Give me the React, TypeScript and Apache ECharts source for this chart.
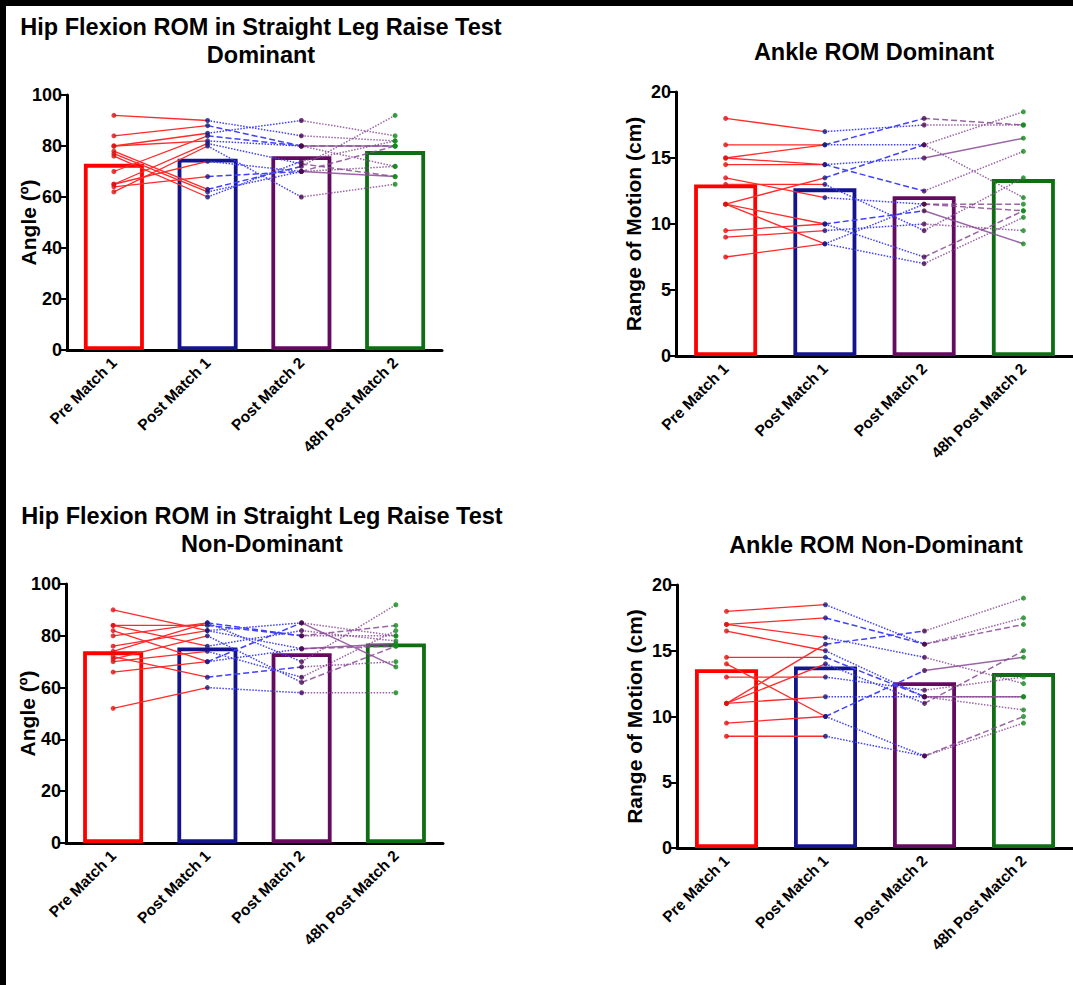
import React, { useEffect, useRef } from "react";
import * as echarts from "echarts";

const categories = ["Pre Match 1", "Post Match 1", "Post Match 2", "48h Post Match 2"];

// Panel 1: Hip Flexion ROM – Dominant (per subject, 4 time points)
const hipDomPre = [92, 84, 80, 80, 78, 77, 76, 70, 65, 65, 64, 62];
const hipDomPost1 = [90, 88, 85, 82, 63, 62, 60, 84, 81, 74, 68, 80];
const hipDomPost2 = [84, 80, 90, 80, 72, 70, 74, 80, 73, 70, 70, 60];
const hipDom48h = [82, 80, 84, 80, 92, 80, 82, 72, 68, 72, 68, 65];
const hipDomMeans = [73, 75, 76, 78];

// Panel 2: Ankle ROM – Dominant
const ankDomPre = [18, 16, 15, 15, 14.5, 13.5, 13, 11.5, 11.5, 11.5, 9.5, 9, 7.5];
const ankDomPost1 = [17, 16, 16, 14.5, 14.5, 12, 13, 13.5, 10, 8.5, 10, 9.5, 8.5];
const ankDomPost2 = [17.5, 18, 16, 15, 12.5, 11.5, 9.5, 16, 7.5, 7, 11, 10, 11.5];
const ankDom48h = [17.5, 17.5, 18.5, 16.5, 15.5, 11.5, 13.5, 12, 11, 10.5, 8.5, 9.5, 11];
const ankDomMeans = [13, 12.7, 12.1, 13.4];

// Panel 3: Hip Flexion ROM – Non-Dominant
const hipNonPre = [90, 84, 84, 82, 80, 76, 74, 72, 71, 70, 66, 52];
const hipNonPost1 = [82, 84, 76, 70, 85, 82, 85, 64, 80, 74, 70, 60];
const hipNonPost2 = [85, 80, 82, 75, 80, 75, 70, 68, 62, 64, 85, 58];
const hipNon48h = [80, 84, 78, 77, 80, 76, 92, 70, 76, 82, 68, 58];
const hipNonMeans = [74, 75.5, 73.3, 77];

// Panel 4: Ankle ROM – Non-Dominant
const ankNonPre = [18, 17, 17, 16.5, 14.5, 14, 13, 11, 11, 11, 9.5, 8.5];
const ankNonPost1 = [18.5, 17.5, 16, 15, 14.5, 10, 13, 15.5, 14, 11.5, 10, 8.5];
const ankNonPost2 = [15.5, 15.5, 14.5, 11.5, 11.5, 7, 12, 16.5, 11, 11.5, 13.5, 7];
const ankNon48h = [17.5, 17, 12.5, 11.5, 10.5, 10, 13, 19, 15, 11.5, 14.5, 9.5];
const ankNonMeans = [13.6, 13.8, 12.6, 13.3];

const FONT = "Arial, 'Liberation Sans', sans-serif";
const barColors = ["#ff0000", "#14148c", "#640a5f", "#0f6e14"];
const dotColors = ["#e01010", "#1a1a80", "#4a0a50", "#108a1a"];
const segColors = ["#ff2a2a", "#4040ff", "#8a4a96"];
const segDash: any[] = [
  ["solid"],
  ["dotted", "dashed", "dotted", "dotted", "dashed", "dotted"],
  ["dotted", "dashed", "dotted", "solid", "dotted", "dashed", "dotted"],
];

type Panel = {
  title: string[];
  titleX: number;
  titleY: number;
  grid: { left: number; top: number; width: number; height: number };
  max: number;
  interval: number;
  yName: string;
  nameGap: number;
  barWidth: number;
  subjects: number[][];
  means: number[];
};

const panels: Panel[] = [
  {
    title: ["Hip Flexion ROM in Straight Leg Raise Test", "Dominant"],
    titleX: 261,
    titleY: 27,
    grid: { left: 67, top: 95, width: 375, height: 255 },
    max: 100,
    interval: 20,
    yName: "Angle (º)",
    nameGap: 28,
    barWidth: 60,
    subjects: [hipDomPre, hipDomPost1, hipDomPost2, hipDom48h],
    means: hipDomMeans,
  },
  {
    title: ["Ankle ROM Dominant"],
    titleX: 874,
    titleY: 52,
    grid: { left: 676, top: 92, width: 397, height: 264 },
    max: 20,
    interval: 5,
    yName: "Range of Motion (cm)",
    nameGap: 32,
    barWidth: 63,
    subjects: [ankDomPre, ankDomPost1, ankDomPost2, ankDom48h],
    means: ankDomMeans,
  },
  {
    title: ["Hip Flexion ROM in Straight Leg Raise Test", "Non-Dominant"],
    titleX: 262,
    titleY: 516,
    grid: { left: 66, top: 584, width: 377, height: 259 },
    max: 100,
    interval: 20,
    yName: "Angle (º)",
    nameGap: 28,
    barWidth: 60,
    subjects: [hipNonPre, hipNonPost1, hipNonPost2, hipNon48h],
    means: hipNonMeans,
  },
  {
    title: ["Ankle ROM Non-Dominant"],
    titleX: 876,
    titleY: 545,
    grid: { left: 677, top: 585, width: 396, height: 263 },
    max: 20,
    interval: 5,
    yName: "Range of Motion (cm)",
    nameGap: 32,
    barWidth: 63,
    subjects: [ankNonPre, ankNonPost1, ankNonPost2, ankNon48h],
    means: ankNonMeans,
  },
];

function buildOption() {
  const grid: any[] = [];
  const xAxis: any[] = [];
  const yAxis: any[] = [];
  const series: any[] = [];
  const graphic: any[] = [
    { type: "rect", shape: { x: 0, y: 0, width: 1073, height: 6 }, style: { fill: "#000" }, z: 100 },
    { type: "rect", shape: { x: 0, y: 0, width: 6, height: 985 }, style: { fill: "#000" }, z: 100 },
  ];

  panels.forEach((p, pi) => {
    grid.push({ ...p.grid, containLabel: false });
    xAxis.push({
      type: "category",
      gridIndex: pi,
      data: categories,
      axisLine: { lineStyle: { color: "#000", width: 3 } },
      axisTick: { alignWithLabel: true, length: 6, lineStyle: { color: "#000", width: 2 } },
      axisLabel: {
        rotate: 45,
        interval: 0,
        margin: 10,
        color: "#000",
        fontWeight: "bold",
        fontSize: 15.5,
        fontFamily: FONT,
      },
    });
    yAxis.push({
      type: "value",
      gridIndex: pi,
      min: 0,
      max: p.max,
      interval: p.interval,
      splitLine: { show: false },
      axisLine: { show: true, lineStyle: { color: "#000", width: 3 } },
      axisTick: { show: true, length: 6, lineStyle: { color: "#000", width: 2 } },
      axisLabel: { color: "#000", fontWeight: "bold", fontSize: 18, fontFamily: FONT, margin: 5 },
      name: p.yName,
      nameLocation: "middle",
      nameGap: p.nameGap,
      nameMoveOverlap: false,
      nameTextStyle: { color: "#000", fontWeight: "bold", fontSize: 21, fontFamily: FONT },
    });

    // mean bars (hollow)
    series.push({
      type: "bar",
      xAxisIndex: pi,
      yAxisIndex: pi,
      barWidth: p.barWidth,
      z: 1,
      data: p.means.map((v, i) => ({
        value: v,
        itemStyle: { color: "rgba(0,0,0,0)", borderColor: barColors[i], borderWidth: 3.8 },
      })),
    });

    // subject connecting lines
    const n = p.subjects[0].length;
    for (let s = 0; s < n; s++) {
      for (let k = 0; k < 3; k++) {
        const data: any[] = ["-", "-", "-", "-"];
        data[k] = p.subjects[k][s];
        data[k + 1] = p.subjects[k + 1][s];
        const dashes = segDash[k];
        series.push({
          type: "line",
          xAxisIndex: pi,
          yAxisIndex: pi,
          data,
          showSymbol: false,
          symbol: "none",
          silent: true,
          z: 2,
          lineStyle: {
            color: segColors[k],
            width: k === 0 ? 1.3 : 1.5,
            type: dashes[s % dashes.length],
            opacity: k === 2 ? 0.85 : 1,
          },
        });
      }
    }

    // points
    for (let c = 0; c < 4; c++) {
      series.push({
        type: "scatter",
        xAxisIndex: pi,
        yAxisIndex: pi,
        symbol: "circle",
        symbolSize: 5,
        z: 3,
        itemStyle: { color: dotColors[c] },
        data: p.subjects[c].map((v) => [c, v]),
      });
    }

    // titles
    p.title.forEach((line, li) => {
      graphic.push({
        type: "text",
        x: p.titleX,
        y: p.titleY + li * 28,
        style: {
          text: line,
          fill: "#000",
          font: `bold 23.5px ${FONT}`,
          textAlign: "center",
          textVerticalAlign: "middle",
        },
      });
    });
  });

  return {
    animation: false,
    backgroundColor: "#fff",
    grid,
    xAxis,
    yAxis,
    series,
    graphic,
  };
}

export default function App() {
  const ref = useRef<HTMLDivElement>(null);
  useEffect(() => {
    if (!ref.current) return;
    const chart = echarts.init(ref.current, undefined, { renderer: "svg" });
    chart.setOption(buildOption() as any);
    return () => chart.dispose();
  }, []);
  return (
    <div
      ref={ref}
      style={{ position: "absolute", left: 0, top: 0, width: 1073, height: 985, background: "#fff" }}
    />
  );
}
